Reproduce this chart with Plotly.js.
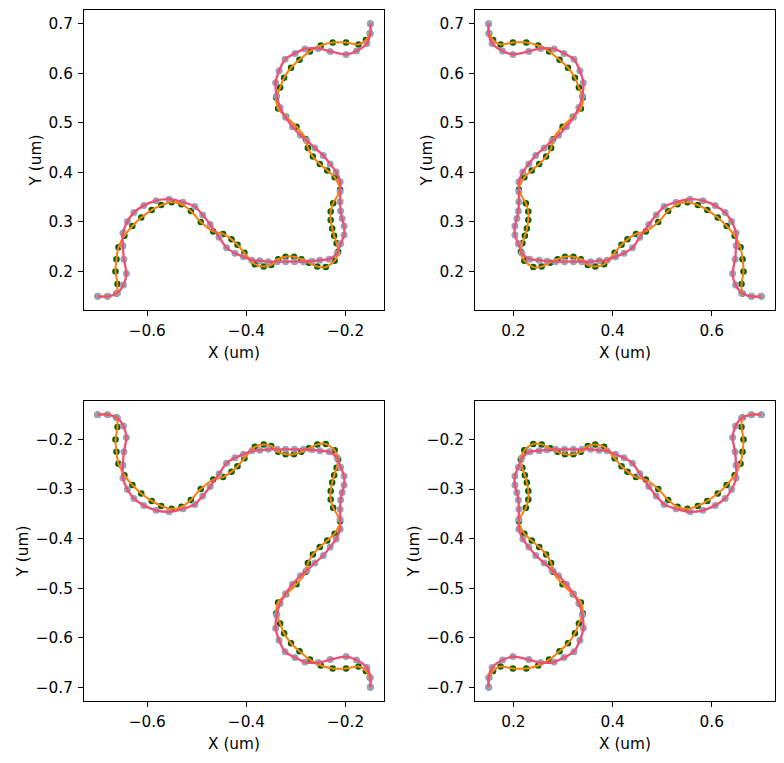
<!DOCTYPE html>
<html><head><meta charset="utf-8">
<script src="https://cdn.plot.ly/plotly-3.0.1.min.js"></script>
<style>html,body{margin:0;padding:0;background:#fff}</style>
</head><body><div id="chart" style="width:784px;height:763px"></div>
<script>
// Path (um); the other panels are its mirror images
const greenX = [-0.700,-0.680,-0.662,-0.660,-0.664,-0.662,-0.658,-0.646,-0.630,-0.612,
  -0.591,-0.572,-0.551,-0.531,-0.512,-0.492,-0.467,-0.447,-0.430,-0.418,
  -0.404,-0.383,-0.365,-0.350,-0.336,-0.321,-0.304,-0.289,-0.274,-0.257,
  -0.240,-0.222,-0.215,-0.218,-0.223,-0.227,-0.230,-0.230,-0.225,-0.211,
  -0.222,-0.237,-0.252,-0.266,-0.276,-0.280,-0.299,-0.320,-0.336,-0.340,
  -0.332,-0.324,-0.310,-0.293,-0.272,-0.250,-0.226,-0.199,-0.174,-0.159,-0.151,-0.150];
const greenY = [0.150,0.150,0.156,0.175,0.200,0.225,0.249,0.272,0.292,0.309,
  0.324,0.334,0.340,0.336,0.322,0.300,0.281,0.276,0.265,0.254,
  0.238,0.215,0.210,0.213,0.225,0.230,0.230,0.225,0.218,0.210,
  0.209,0.222,0.240,0.257,0.272,0.287,0.304,0.321,0.338,0.365,
  0.390,0.404,0.417,0.432,0.449,0.467,0.492,0.512,0.529,0.551,
  0.571,0.591,0.611,0.627,0.644,0.656,0.662,0.662,0.658,0.667,0.680,0.700];
const greyX = [-0.700,-0.680,-0.660,-0.648,-0.642,-0.647,-0.649,-0.649,-0.640,-0.627,
  -0.607,-0.582,-0.556,-0.528,-0.504,-0.488,-0.473,-0.455,-0.440,-0.423,
  -0.406,-0.389,-0.373,-0.356,-0.338,-0.321,-0.303,-0.285,-0.268,-0.252,
  -0.233,-0.217,-0.210,-0.203,-0.203,-0.207,-0.210,-0.211,-0.211,-0.211,
  -0.219,-0.231,-0.245,-0.262,-0.278,-0.291,-0.307,-0.321,-0.332,-0.339,
  -0.341,-0.334,-0.322,-0.302,-0.282,-0.255,-0.231,-0.199,-0.178,-0.157,-0.150,-0.150];
const greyY = [0.150,0.150,0.157,0.173,0.196,0.225,0.252,0.278,0.301,0.319,
  0.333,0.343,0.346,0.340,0.331,0.314,0.295,0.269,0.248,0.237,
  0.230,0.223,0.222,0.220,0.220,0.220,0.220,0.220,0.221,0.223,
  0.225,0.237,0.256,0.274,0.292,0.307,0.322,0.341,0.361,0.381,
  0.401,0.417,0.434,0.449,0.464,0.475,0.492,0.511,0.531,0.554,
  0.581,0.605,0.628,0.640,0.649,0.650,0.644,0.638,0.645,0.660,0.680,0.700];

// mirror factors per panel: top-left, top-right, bottom-left, bottom-right
const panelSignX = [1, -1, 1, -1];
const panelSignY = [1, 1, -1, -1];

const negTickVals = [-0.6, -0.4, -0.2];
const negTickText = ["\u22120.6", "\u22120.4", "\u22120.2"];
const posTickVals = [0.2, 0.4, 0.6];
const posTickText = ["0.2", "0.4", "0.6"];
const yPosTickVals = [0.2, 0.3, 0.4, 0.5, 0.6, 0.7];
const yPosTickText = ["0.2", "0.3", "0.4", "0.5", "0.6", "0.7"];
const yNegTickVals = [-0.7, -0.6, -0.5, -0.4, -0.3, -0.2];
const yNegTickText = ["\u22120.7", "\u22120.6", "\u22120.5", "\u22120.4", "\u22120.3", "\u22120.2"];

const FONT = {family: "DejaVu Sans", size: 15.3, color: "#000"};
const xDomains = [[84/784, 384/784], [475/784, 775/784]];
const yDomains = [[1-310/763, 1-10/763], [1-701/763, 1-401/763]];

const traces = [];
const layout = {
  width: 784, height: 763,
  margin: {l: 0, r: 0, t: 0, b: 0},
  paper_bgcolor: "#fff", plot_bgcolor: "#fff",
  showlegend: false,
  font: FONT
};

for (let p = 0; p < 4; p++) {
  const sx = panelSignX[p], sy = panelSignY[p];
  const xa = p === 0 ? "x" : "x" + (p + 1);
  const ya = p === 0 ? "y" : "y" + (p + 1);
  const gx = greenX.map(v => v * sx), gy = greenY.map(v => v * sy);
  const rx = greyX.map(v => v * sx), ry = greyY.map(v => v * sy);
  traces.push({x: gx, y: gy, xaxis: xa, yaxis: ya, mode: "markers", type: "scatter",
    marker: {color: "#006400", size: 6.5}, hoverinfo: "skip"});
  traces.push({x: rx, y: ry, xaxis: xa, yaxis: ya, mode: "markers", type: "scatter",
    marker: {color: "#98a1b7", size: 7}, hoverinfo: "skip"});
  traces.push({x: gx, y: gy, xaxis: xa, yaxis: ya, mode: "lines", type: "scatter",
    line: {color: "#ff7f0e", width: 2, shape: "spline", smoothing: 0.8}, hoverinfo: "skip"});
  traces.push({x: rx, y: ry, xaxis: xa, yaxis: ya, mode: "lines", type: "scatter",
    line: {color: "#ee4f72", width: 2.3, shape: "spline", smoothing: 0.8}, hoverinfo: "skip"});

  const col = p % 2, row = Math.floor(p / 2);
  const xPos = sx > 0;  // top-left read x is negative
  const yPos = sy > 0;
  const axCommon = {showgrid: false, zeroline: false, showline: true, mirror: true,
    linecolor: "#000", linewidth: 1, ticks: "outside", ticklen: 5, tickwidth: 1,
    tickcolor: "#000", tickfont: FONT, tickmode: "array", ticklabelstandoff: 2};
  layout[xa === "x" ? "xaxis" : "xaxis" + (p + 1)] = Object.assign({}, axCommon, {
    domain: xDomains[col], anchor: ya,
    range: xPos ? [-0.7275, -0.1225] : [0.1225, 0.7275],
    tickvals: xPos ? negTickVals : posTickVals,
    ticktext: xPos ? negTickText : posTickText,
    title: {text: "X (um)", font: FONT, standoff: 7}
  });
  layout[ya === "y" ? "yaxis" : "yaxis" + (p + 1)] = Object.assign({}, axCommon, {
    domain: yDomains[row], anchor: xa,
    range: yPos ? [0.1225, 0.7275] : [-0.7275, -0.1225],
    tickvals: yPos ? yPosTickVals : yNegTickVals,
    ticktext: yPos ? yPosTickText : yNegTickText,
    title: {text: "Y (um)", font: FONT, standoff: 3}
  });
}

Plotly.newPlot("chart", traces, layout, {staticPlot: true, displayModeBar: false});
</script>
</body></html>
